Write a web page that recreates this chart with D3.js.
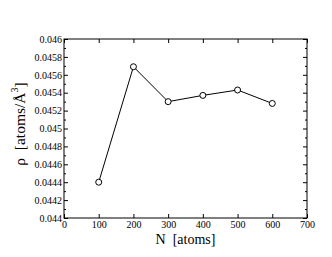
<!DOCTYPE html>
<html>
<head>
<meta charset="utf-8">
<script src="https://cdn.jsdelivr.net/npm/d3@7"></script>
<style>
  body { margin: 0; background: #fff; }
  svg text { font-family: "Liberation Serif", "DejaVu Serif", serif; fill: #000; }
</style>
</head>
<body>
<svg id="chart" width="332" height="257"></svg>
<script>
// data
const atoms = [100, 200, 300, 400, 500, 600];
const density = [0.04440, 0.04569, 0.04530, 0.04537, 0.04543, 0.04528];

const xTicks = [0, 100, 200, 300, 400, 500, 600, 700];
const yTicks = [0.044, 0.0442, 0.0444, 0.0446, 0.0448, 0.045, 0.0452, 0.0454, 0.0456, 0.0458, 0.046];
const yTickLabels = ["0.044", "0.0442", "0.0444", "0.0446", "0.0448", "0.045", "0.0452", "0.0454", "0.0456", "0.0458", "0.046"];
const yMinor = [0.0441, 0.0443, 0.0445, 0.0447, 0.0449, 0.0451, 0.0453, 0.0455, 0.0457, 0.0459];

const svg = d3.select("svg#chart");
const box = { left: 64, right: 307, top: 39, bottom: 218 };

const x = d3.scaleLinear().domain([0, 700]).range([box.left, box.right]);
const y = d3.scaleLinear().domain([0.044, 0.046]).range([box.bottom, box.top]);

// frame
svg.append("rect")
    .attr("x", box.left).attr("y", box.top)
    .attr("width", box.right - box.left).attr("height", box.bottom - box.top)
    .attr("fill", "none").attr("stroke", "#000").attr("stroke-width", 1);

// axes, ticks pointing inward, mirrored on top and right
const bottomAxis = d3.axisBottom(x).tickValues(xTicks).tickSizeInner(-4).tickSizeOuter(0).tickPadding(3);
const topAxis = d3.axisTop(x).tickValues(xTicks).tickSizeInner(-4).tickSizeOuter(0).tickFormat("");
const leftAxis = d3.axisLeft(y).tickValues(yTicks).tickSizeInner(-4).tickSizeOuter(0).tickPadding(2)
    .tickFormat((d, i) => yTickLabels[i]);
const rightAxis = d3.axisRight(y).tickValues(yTicks).tickSizeInner(-4).tickSizeOuter(0).tickFormat("");
const leftMinor = d3.axisLeft(y).tickValues(yMinor).tickSizeInner(-2).tickSizeOuter(0).tickFormat("");
const rightMinor = d3.axisRight(y).tickValues(yMinor).tickSizeInner(-2).tickSizeOuter(0).tickFormat("");

const axes = [
    [bottomAxis, `translate(0,${box.bottom})`],
    [topAxis, `translate(0,${box.top})`],
    [leftAxis, `translate(${box.left},0)`],
    [rightAxis, `translate(${box.right},0)`],
    [leftMinor, `translate(${box.left},0)`],
    [rightMinor, `translate(${box.right},0)`]
];
axes.forEach(([ax, tr]) => {
    const g = svg.append("g").attr("transform", tr).call(ax);
    g.select(".domain").remove();
    g.selectAll("line").attr("stroke", "#000");
    g.selectAll("text").attr("font-family", "Liberation Serif").attr("font-size", 10);
});

// line and circle markers
const line = d3.line().x((d, i) => x(atoms[i])).y(d => y(d));
svg.append("path")
    .datum(density)
    .attr("d", line)
    .attr("fill", "none")
    .attr("stroke", "#000")
    .attr("stroke-width", 1);

svg.append("g").selectAll("circle")
    .data(density)
    .join("circle")
    .attr("cx", (d, i) => x(atoms[i]))
    .attr("cy", d => y(d))
    .attr("r", 3)
    .attr("fill", "#fff")
    .attr("stroke", "#000")
    .attr("stroke-width", 1);

// axis titles
svg.append("text")
    .attr("x", (box.left + box.right) / 2)
    .attr("y", 244)
    .attr("text-anchor", "middle")
    .attr("font-size", 14)
    .attr("xml:space", "preserve")
    .text("N  [atoms]");

const yTitle = svg.append("text")
    .attr("transform", "translate(25,124) rotate(-90)")
    .attr("text-anchor", "middle")
    .attr("font-size", 15.5)
    .attr("xml:space", "preserve");
yTitle.append("tspan").text("ρ  [atoms/Å");
yTitle.append("tspan").attr("font-size", 10).attr("dy", -7).text("3");
yTitle.append("tspan").attr("dy", 7).text("]");
</script>
</body>
</html>
